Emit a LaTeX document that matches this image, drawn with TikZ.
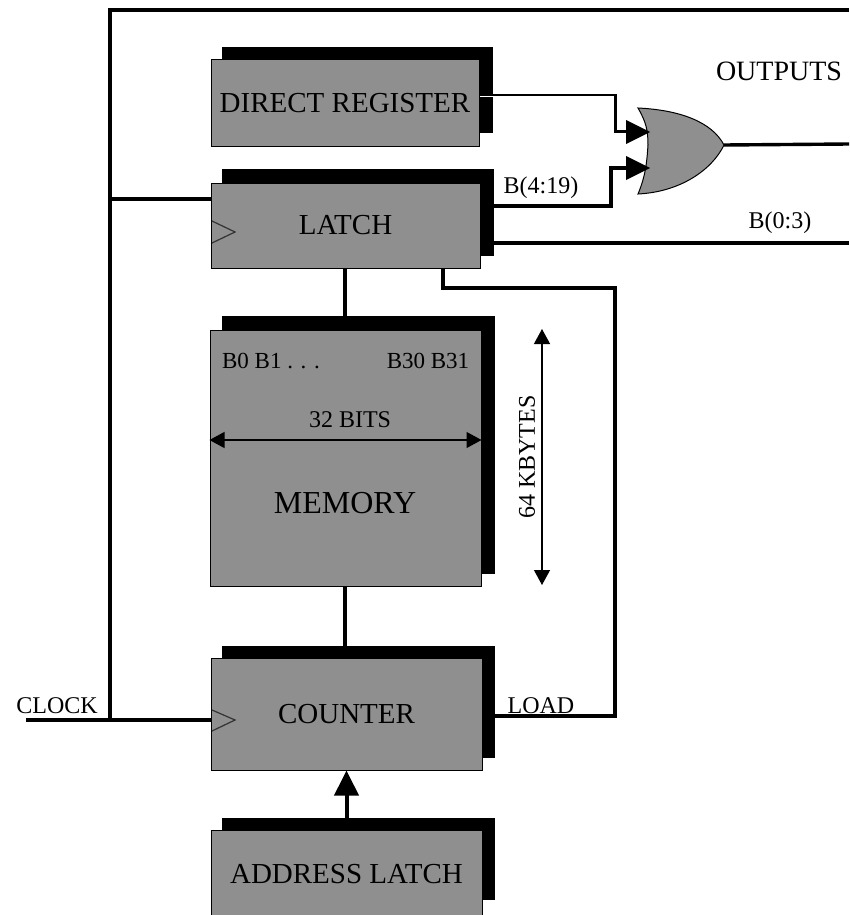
\documentclass[tikz,border=0pt]{standalone}
\usepackage{fontspec}
\setmainfont{Liberation Serif}
\usetikzlibrary{arrows.meta,calc}
\definecolor{blockgrey}{gray}{0.56}
\tikzset{
  x=1pt,y=-1pt,
  front/.style={draw=black,line width=1pt,fill=blockgrey,inner sep=0pt,font=\fontsize{29}{31}\selectfont},
  back/.style={fill=black,draw=none,inner sep=0pt},
  wire/.style={draw=black,line width=3.4pt,line cap=butt,line join=miter},
  tri/.style={-{Triangle[length=25pt,width=24pt]}},
  dim/.style={draw=black,line width=1.2pt,{Triangle[length=15pt,width=16pt]}-{Triangle[length=15pt,width=16pt]}},
  small/.style={inner sep=0pt,font=\fontsize{24}{26}\selectfont},
  big/.style={inner sep=0pt,font=\fontsize{28}{30}\selectfont},
  clk/.style={draw=black!80,line width=1.2pt,fill=none}
}
\begin{document}
\begin{tikzpicture}
\useasboundingbox (0,0) rectangle (849,915);
\fill[white] (0,0) rectangle (849,915);

\coordinate (topright) at (849,10);
\coordinate (topleft) at (110,10);
\coordinate (clkin) at (26,720);
\coordinate (clkjoin) at (110,720);
\coordinate (latchjoin) at (110,199);
\coordinate (load) at (615,288);
\coordinate (loadb) at (443,288);

% shadows
\node[back,minimum width=271pt,minimum height=86pt] (s1) at (357.5,90) {};
\node[back,minimum width=272pt,minimum height=87pt] (s2) at (358,212.5) {};
\node[back,minimum width=273pt,minimum height=258pt] (s3) at (358.5,445) {};
\node[back,minimum width=273pt,minimum height=112pt] (s4) at (358.5,702) {};
\node[back,minimum width=273pt,minimum height=82pt] (s5) at (358.5,859) {};

% blocks
\node[front,minimum width=268pt,minimum height=86pt] (direct) at (345,103) {DIRECT REGISTER};
\node[front,minimum width=269pt,minimum height=85pt] (latch) at (345.5,225.5) {\raisebox{-2.5pt}{LATCH}};
\node[front,minimum width=271pt,minimum height=256pt] (memory) at (345.5,458) {};
\node[front,minimum width=271pt,minimum height=112pt] (counter) at (346.5,714) {COUNTER};
\node[front,minimum width=271pt,minimum height=90pt] (addr) at (346.5,875) {\raisebox{2pt}{ADDRESS LATCH}};

% OR gate
\coordinate (orA) at (638,108);
\coordinate (orB) at (649,132);
\coordinate (orC) at (649,168);
\coordinate (orD) at (638,194);
\coordinate (orT) at (724,145);
\filldraw[draw=black,line width=1pt,fill=blockgrey]
  (orA) .. controls (680,110) and (712,122) .. (orT)
  .. controls (712,170) and (680,192) .. (orD)
  .. controls (646,175) and (647,160) .. (648,145)
  .. controls (648,130) and (646,122) .. (orA) -- cycle;

% connectors
\draw[wire] (topright) -- (topleft) -- (clkjoin);
\draw[wire] (clkin) -- (clkjoin) -- (counter.west |- clkjoin);
\draw[wire] (latchjoin) -- (latch.west |- latchjoin);
\draw[wire] (s2.east |- 0,243) -- (849,243);
\draw[wire] (orT) -- (849,144);
\draw[wire] (latch.south -| 345,0) -- (s3.north -| 345,0);
\draw[wire] (memory.south -| 345,0) -- (s4.north -| 345,0);
\draw[wire] (counter.east |- 0,716) -- (615,716) -- (load) -- (loadb) -- (loadb |- latch.south);

% input arrows of the OR gate
\draw[wire,line width=3pt] (s1.east |- 0,96) -- (615,96) -- (615,132) -- (628,132);
\draw[draw=white,line width=0.7pt] (480,96) -- (614,96);
\draw[wire] (s2.east |- 0,206) -- (611,206) -- (611,168) -- (628,168);
\fill[black] (orB) ++(1,0) -- ++(-24,-12) -- ++(0,24) -- cycle;
\fill[black] (orC) ++(1,0) -- ++(-24,-12) -- ++(0,24) -- cycle;
\draw[wire,tri,line width=4pt] (addr.north |- s5.north) -- (counter.south);

% clock marks
\draw[clk] (212,221) -- (235,232) -- (212,243);
\draw[clk] (212,710) -- (235,720) -- (212,731);

% memory labels and dimension arrows
\node[big,font=\fontsize{32}{34}\selectfont] (mlabel) at (345,503) {MEMORY};
\node[small,font=\fontsize{23}{25}\selectfont] (b0) at (271,361) {B0 B1 . . .};
\node[small,font=\fontsize{23}{25}\selectfont] (b30) at (428,361) {B30 B31};
\node[small] (bits) at (350,420) {32 BITS};
\draw[dim] (memory.west |- 0,440) -- (memory.east |- 0,440);
\coordinate (kt) at (542,329);
\coordinate (kb) at (542,585);
\draw[dim] (kt) -- (kb);
\node[small,rotate=90] (kb64) at (527,457) {64 KBYTES};

% other labels
\node[big] (out) at (779,71) {OUTPUTS};
\node[small] (b419) at (541,188) {B(4:19)};
\node[small] (b03) at (780,223) {B(0:3)};
\node[small] (clock) at (57,706) {CLOCK};
\node[small] (loadl) at (541,706) {LOAD};
\end{tikzpicture}
\end{document}
